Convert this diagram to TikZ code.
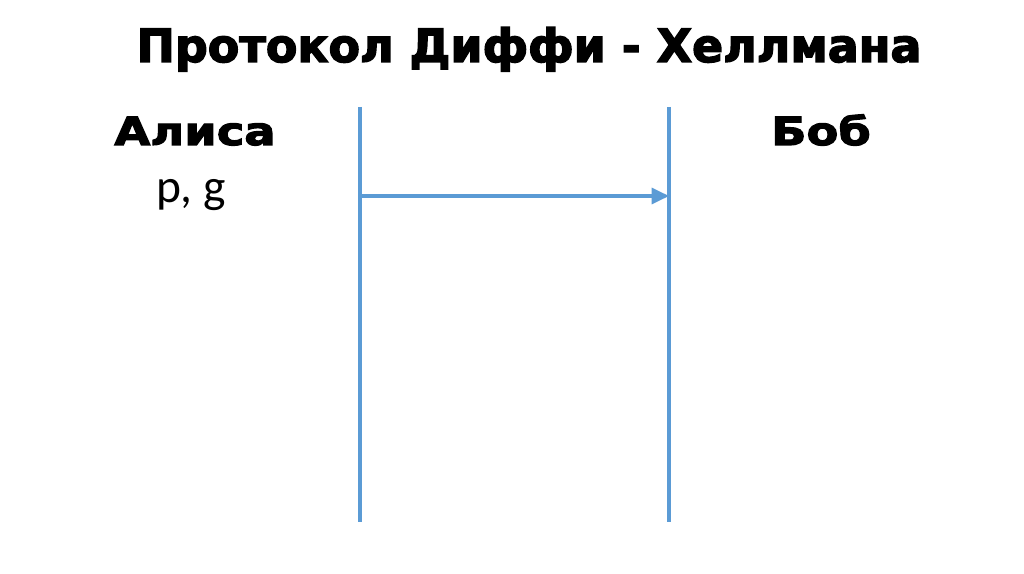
\documentclass[tikz,border=0pt]{standalone}
\usepackage{fontspec}
\usepackage{tikz}
\usetikzlibrary{arrows.meta}
\setmainfont{Carlito}
\newfontfamily\paramFont{Carlito}
\newfontfamily\headFont[FakeBold=3]{DejaVu Sans}
\newfontfamily\nameFont[FakeBold=3, FakeStretch=1.2]{DejaVu Sans}
\definecolor{lineColor}{RGB}{91,155,213}
\tikzstyle{slide} = [x = 0.75pt, y = -0.75pt]
\tikzstyle{titleText} = [font=\headFont\bfseries\fontsize{34.4}{40}\selectfont, anchor=base, inner sep=0]
\tikzstyle{nameText} = [font=\nameFont\bfseries\fontsize{29}{34}\selectfont, anchor=base, inner sep=0]
\tikzstyle{paramText} = [font=\paramFont\fontsize{33}{40}\selectfont, anchor=base, inner sep=0, scale=1.08]
\tikzstyle{lifeLine} = [color=lineColor, line width=2.3pt]
\tikzstyle{message} = [lifeLine, -{Triangle[length=13pt, width=12pt]}]

\begin{document}
\begin{tikzpicture}[slide]
              \useasboundingbox [fill=white] (0,0) rectangle (1024,574);
              \node [titleText] (title) at (529,62) {Протокол Диффи - Хеллмана};
              \node [nameText] (alice) at (195,145) {Алиса};
              \node [nameText] (bob) at (821,145) {Боб};
              \node [paramText] (params) at (191,203) {p, g};

              \coordinate (aliceTop) at (360,107);
              \coordinate (aliceBottom) at (360,522);
              \coordinate (bobTop) at (669,107);
              \coordinate (bobBottom) at (669,522);
              \coordinate (sendStart) at (360,196);
              \coordinate (sendEnd) at (669,196);
              \draw [lifeLine] (aliceTop) -- (aliceBottom);
              \draw [lifeLine] (bobTop) -- (bobBottom);
              \draw [message] (sendStart) -- (sendEnd);
            \end{tikzpicture}
\end{document}
